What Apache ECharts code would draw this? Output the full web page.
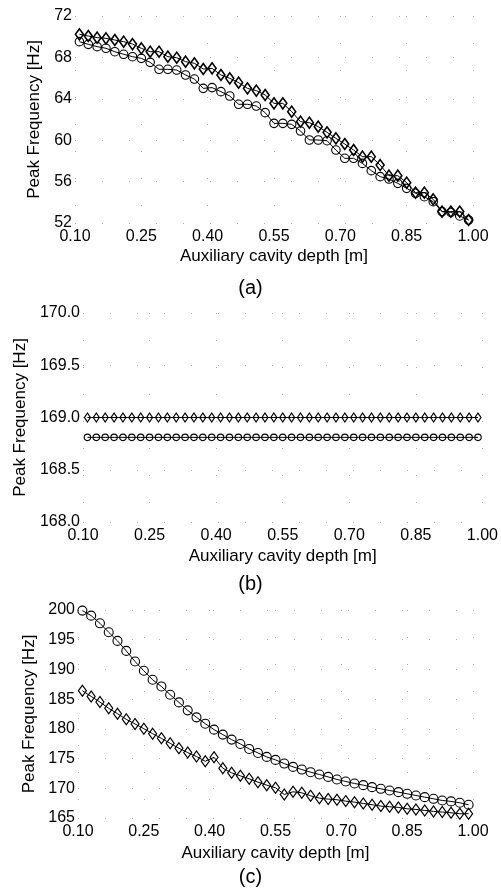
<!DOCTYPE html>
<html><head><meta charset="utf-8">
<script src="https://cdn.jsdelivr.net/npm/echarts@6/dist/echarts.min.js"></script>
<style>html,body{margin:0;padding:0;background:#fff}#c{width:501px;height:888px}</style>
</head><body><div id="c"></div>
<script>
const depth = [0.11,0.13,0.15,0.17,0.19,0.21,0.23,0.25,0.27,0.29,0.31,0.33,0.35,0.37,0.39,0.41,0.43,0.45,0.47,0.49,0.51,0.53,0.55,0.57,0.59,0.61,0.63,0.65,0.67,0.69,0.71,0.73,0.75,0.77,0.79,0.81,0.83,0.85,0.87,0.89,0.91,0.93,0.95,0.97,0.99];
const xTicks = [0.10,0.25,0.40,0.55,0.70,0.85,1.00];

const aDiamond = [70.23,70.07,69.91,69.84,69.68,69.52,69.29,68.88,68.55,68.55,68.07,67.97,67.59,67.43,66.88,66.94,66.30,65.98,65.56,65.01,64.79,64.37,63.56,63.56,62.76,61.79,61.69,61.31,60.76,60.18,59.63,59.05,58.41,58.41,57.60,56.57,56.57,55.90,54.93,54.93,54.29,53.10,53.10,53.10,52.29];
const aCircle = [69.52,69.26,69.04,68.88,68.55,68.30,68.07,67.91,67.52,66.85,66.85,66.78,66.30,65.91,65.01,65.08,64.69,64.27,63.47,63.47,63.30,62.66,61.63,61.63,61.53,60.89,60.02,60.02,59.95,59.05,58.25,58.25,57.76,57.06,56.48,56.25,55.83,55.35,54.87,54.54,54.06,53.10,53.03,52.68,52.29];

const bDiamond = [169.0,169.0,169.0,169.0,169.0,169.0,169.0,169.0,169.0,169.0,169.0,169.0,169.0,169.0,169.0,169.0,169.0,169.0,169.0,169.0,169.0,169.0,169.0,169.0,169.0,169.0,169.0,169.0,169.0,169.0,169.0,169.0,169.0,169.0,169.0,169.0,169.0,169.0,169.0,169.0,169.0,169.0,169.0,169.0,169.0];
const bCircle = [168.81,168.81,168.81,168.81,168.81,168.81,168.81,168.81,168.81,168.81,168.81,168.81,168.81,168.81,168.81,168.81,168.81,168.81,168.81,168.81,168.81,168.81,168.81,168.81,168.81,168.81,168.81,168.81,168.81,168.81,168.81,168.81,168.81,168.81,168.81,168.81,168.81,168.81,168.81,168.81,168.81,168.81,168.81,168.81,168.81];

const cCircle = [199.9,199.05,197.76,196.25,194.80,193.12,191.33,189.77,188.26,187.14,185.74,184.45,183.11,181.94,180.87,179.87,179.03,178.19,177.46,176.62,175.95,175.28,174.78,174.16,173.60,173.15,172.71,172.32,171.92,171.48,171.14,170.81,170.53,170.19,169.91,169.63,169.35,169.07,168.79,168.51,168.23,167.95,167.79,167.56,167.23];
const cDiamond = [186.41,185.46,184.51,183.45,182.55,181.60,180.82,180.03,179.19,178.41,177.57,176.73,176.01,175.34,174.55,175.22,173.38,172.60,172.09,171.59,171.03,170.53,170.08,168.96,169.41,169.24,168.74,168.34,168.18,168.07,167.84,167.67,167.45,167.23,167.00,166.89,166.78,166.55,166.44,166.28,166.11,166.00,165.88,165.72,165.72];

const panels = [
  {cap:'(a)', yMin:52, yMax:72, yInt:4, yDec:0, d:aDiamond, c:aCircle, left:75, right:28, top:16, height:207, yGap:26, xGap:25, capTop:273, dSize:[8,11], cSize:8.5, dW:1.6},
  {cap:'(b)', yMin:168, yMax:170, yInt:0.5, yDec:1, d:bDiamond, c:bCircle, left:83, right:18, top:313, height:209, yGap:46, xGap:26, capTop:569, dSize:[6,9], cSize:6.5, dW:1.2},
  {cap:'(c)', yMin:165, yMax:200, yInt:5, yDec:0, d:cDiamond, c:cCircle, left:78, right:28, top:610, height:208, yGap:34, xGap:27, capTop:862, dSize:[8,11], cSize:9, dW:1.2}
];

const font = '"Liberation Sans", Arial, sans-serif';
const grid=[], xAxis=[], yAxis=[], series=[], title=[];
panels.forEach((p,i)=>{
  grid.push({left:p.left, right:p.right, top:p.top, height:p.height, containLabel:false});
  const split = {show:true, lineStyle:{color:'#b0b0b0', type:[1,26], width:1}};
  xAxis.push({type:'value', gridIndex:i, min:0.1, max:1.0, interval:0.15,
    axisLine:{show:false}, axisTick:{show:false}, splitLine:split,
    axisLabel:{color:'#000', fontSize:16, fontFamily:font, margin:6, formatter:v=>v.toFixed(2)},
    name:'Auxiliary cavity depth [m]', nameLocation:'middle', nameGap:p.xGap,
    nameTextStyle:{color:'#000', fontSize:17, fontFamily:font}});
  yAxis.push({type:'value', gridIndex:i, min:p.yMin, max:p.yMax, interval:p.yInt,
    axisLine:{show:false}, axisTick:{show:false}, splitLine:split,
    axisLabel:{color:'#000', fontSize:16, fontFamily:font, margin:3, formatter:v=>v.toFixed(p.yDec)},
    name:'Peak Frequency [Hz]', nameLocation:'middle', nameRotate:90, nameGap:p.yGap,
    nameTextStyle:{color:'#000', fontSize:17, fontFamily:font}});
  series.push({type:'line', xAxisIndex:i, yAxisIndex:i, symbol:'diamond', symbolSize:p.dSize,
    showAllSymbol:true, data:depth.map((x,k)=>[x,p.d[k]]),
    lineStyle:{color:'#000', width:1}, itemStyle:{color:'rgba(255,255,255,0)', borderColor:'#000', borderWidth:p.dW}, z:3});
  series.push({type:'line', xAxisIndex:i, yAxisIndex:i, symbol:'circle', symbolSize:p.cSize,
    showAllSymbol:true, data:depth.map((x,k)=>[x,p.c[k]]),
    lineStyle:{color:'#000', width:1}, itemStyle:{color:'rgba(255,255,255,0)', borderColor:'#000', borderWidth:1.1}, z:2});
  title.push({text:p.cap, left:'center', top:p.capTop, textStyle:{color:'#000', fontSize:20, fontWeight:'normal', fontFamily:font}});
});

const chart = echarts.init(document.getElementById('c'), null, {renderer:'canvas'});
chart.setOption({animation:false, backgroundColor:'#fff', title, grid, xAxis, yAxis, series});
</script></body></html>
